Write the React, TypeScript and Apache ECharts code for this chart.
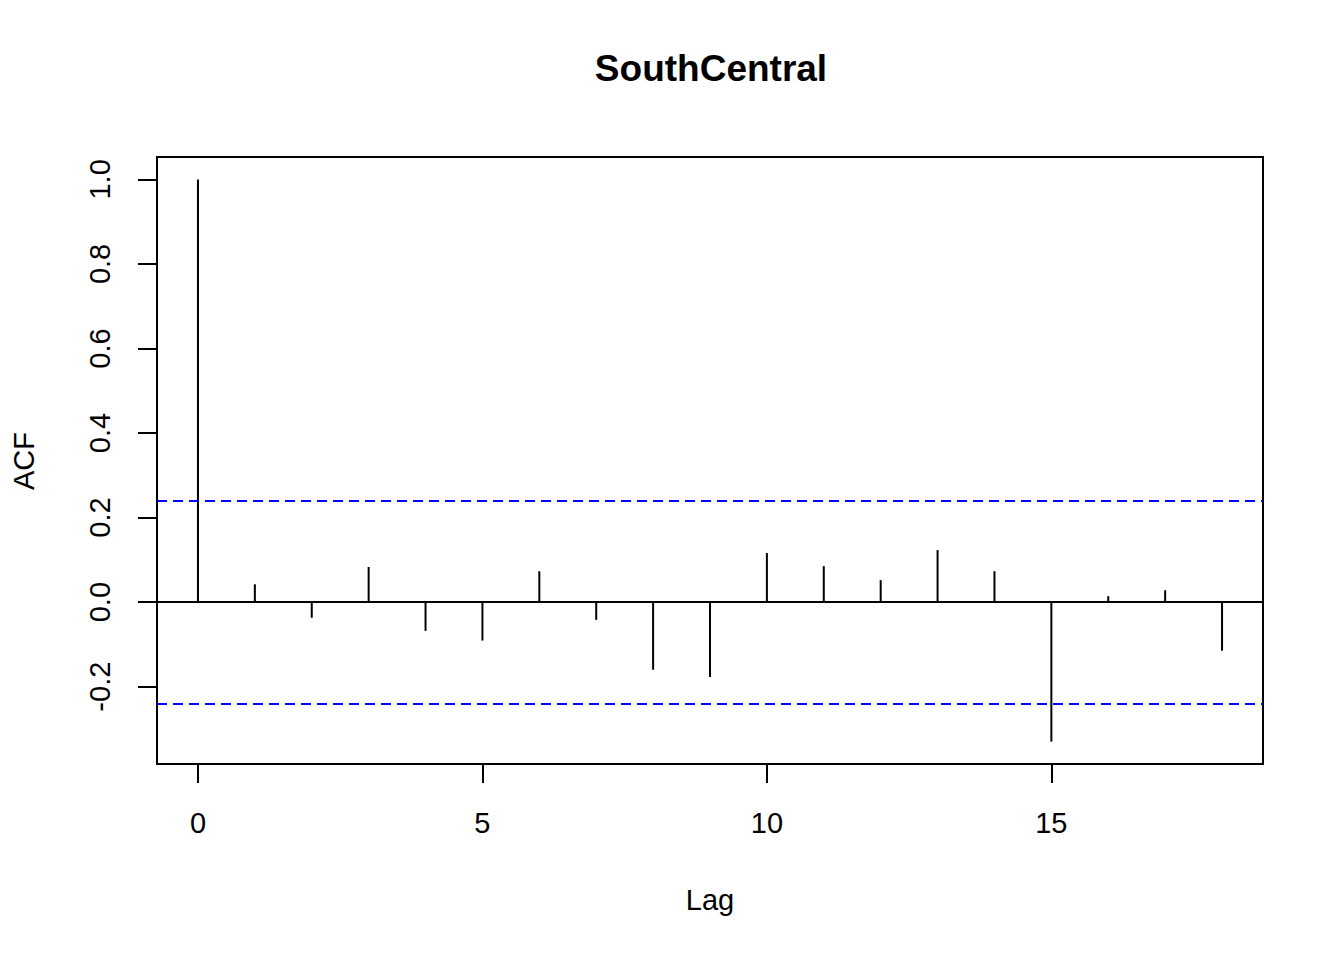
import React, { useEffect, useRef } from "react";
import * as echarts from "echarts";

const chartTitle = "SouthCentral";
const lags = [0, 1, 2, 3, 4, 5, 6, 7, 8, 9, 10, 11, 12, 13, 14, 15, 16, 17, 18];
const acfValues = [
  1.0, 0.042, -0.037, 0.083, -0.068, -0.091, 0.073, -0.042, -0.16, -0.177,
  0.116, 0.085, 0.052, 0.123, 0.073, -0.33, 0.014, 0.028, -0.115,
];
const confLimit = 0.236;
const xTicks = [0, 5, 10, 15];
const yTicks = [-0.2, 0, 0.2, 0.4, 0.6, 0.8, 1.0];
const xRange = [-0.72, 18.72];
const yRange = [-0.383, 1.053];

const FONT = "'Liberation Sans', Arial, Helvetica, sans-serif";

export default function App() {
  const ref = useRef<HTMLDivElement>(null);
  useEffect(() => {
    if (!ref.current) return;
    const chart = echarts.init(ref.current, undefined, { renderer: "svg" });
    const data = lags.map((l, i) => [l, acfValues[i]]);
    chart.setOption({
      animation: false,
      backgroundColor: "#ffffff",
      title: {
        text: chartTitle,
        left: 706,
        top: 45,
        textAlign: "center",
        textStyle: { fontFamily: FONT, fontSize: 37, fontWeight: "bold", color: "#000" },
      },
      grid: {
        left: 157,
        top: 157,
        right: 81,
        bottom: 196,
        show: true,
        borderColor: "#000",
        borderWidth: 2,
        backgroundColor: "transparent",
      },
      xAxis: {
        type: "value",
        min: xRange[0],
        max: xRange[1],
        axisLine: { show: false, onZero: false },
        splitLine: { show: false },
        axisTick: {
          show: true,
          length: 19,
          customValues: xTicks,
          lineStyle: { color: "#000", width: 2 },
        },
        axisLabel: {
          customValues: xTicks,
          margin: 44,
          fontFamily: FONT,
          fontSize: 29,
          color: "#000",
        },
      },
      yAxis: {
        type: "value",
        min: yRange[0],
        max: yRange[1],
        axisLine: { show: false, onZero: false },
        splitLine: { show: false },
        axisTick: {
          show: true,
          length: 19,
          customValues: yTicks,
          lineStyle: { color: "#000", width: 2 },
        },
        axisLabel: {
          customValues: yTicks,
          rotate: 90,
          margin: 43,
          fontFamily: FONT,
          fontSize: 29,
          color: "#000",
          formatter: (v: number) => v.toFixed(1),
        },
      },
      graphic: [
        {
          type: "text",
          x: 710,
          y: 900,
          style: {
            text: "Lag",
            fontFamily: FONT,
            fontSize: 29,
            fill: "#000",
            align: "center",
            verticalAlign: "middle",
          },
        },
        {
          type: "text",
          x: 24,
          y: 461,
          rotation: Math.PI / 2,
          style: {
            text: "ACF",
            fontFamily: FONT,
            fontSize: 29,
            fill: "#000",
            align: "center",
            verticalAlign: "middle",
          },
        },
      ],
      series: [
        {
          type: "custom",
          data,
          renderItem: (params: any, api: any) => {
            const p0 = api.coord([api.value(0), 0]);
            const p1 = api.coord([api.value(0), api.value(1)]);
            return {
              type: "line",
              shape: { x1: p0[0], y1: p0[1], x2: p1[0], y2: p1[1] },
              style: { stroke: "#000", lineWidth: 2 },
            };
          },
          markLine: {
            silent: true,
            symbol: "none",
            label: { show: false },
            data: [
              { yAxis: 0, lineStyle: { color: "#000", width: 2, type: "solid" } },
              { yAxis: confLimit, lineStyle: { color: "#0000ff", width: 2, type: [10, 6] } },
              { yAxis: -confLimit, lineStyle: { color: "#0000ff", width: 2, type: [10, 6] } },
            ],
          },
        },
      ],
    });
    return () => chart.dispose();
  }, []);
  return (
    <div
      ref={ref}
      style={{ position: "fixed", left: 0, top: 0, width: 1344, height: 960 }}
    />
  );
}
